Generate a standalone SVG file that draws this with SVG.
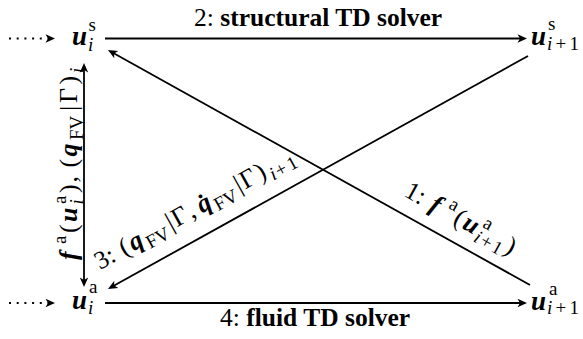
<svg xmlns="http://www.w3.org/2000/svg" width="583" height="339" viewBox="0 0 583 339">
<style>
.tx{font-family:"Liberation Serif","Times New Roman",serif;fill:#000}
.t{font-size:25.5px}
.bd{font-weight:bold}
.mb{font-size:27px;font-weight:bold;font-style:italic}
.lb{font-size:26px;font-weight:bold;font-style:italic}
.mr{font-size:26px}
.sr{font-size:19px}
.si{font-size:19px;font-style:italic}
.ln{stroke:#000;stroke-width:1.8;fill:none}
.dot{stroke-dasharray:2 5.7}
</style>
<defs>
<marker id="ah" viewBox="-10 -5 11 10" refX="-3" refY="0" markerWidth="11" markerHeight="10" markerUnits="userSpaceOnUse" orient="auto-start-reverse">
<path d="M0,0 L-9.5,-4.2 L-7,0 L-9.5,4.2 Z" fill="#000"/>
</marker>
</defs>
<rect width="583" height="339" fill="#fff"/>

<g id="connectors">
<line class="ln dot" x1="9" y1="38.5" x2="52" y2="38.5" marker-end="url(#ah)"/>
<line class="ln dot" x1="9" y1="303" x2="52" y2="303" marker-end="url(#ah)"/>
<line class="ln" x1="105" y1="38.5" x2="524" y2="38.5" marker-end="url(#ah)"/>
<line class="ln" x1="105" y1="303" x2="524" y2="303" marker-end="url(#ah)"/>
<line class="ln" x1="84" y1="66" x2="84" y2="284" marker-start="url(#ah)" marker-end="url(#ah)"/>
<line class="ln" x1="530" y1="285" x2="110.6" y2="51.5" marker-end="url(#ah)"/>
<line class="ln" x1="528" y1="56" x2="110.6" y2="287.5" marker-end="url(#ah)"/>
</g>

<g id="edge-labels">
<text class="tx t" x="194" y="26">2: <tspan class="bd">structural TD solver</tspan></text>
<text class="tx t" x="220" y="326">4: <tspan class="bd">fluid TD solver</tspan></text>
<g transform="translate(403,195.5) rotate(29.1)">
<text class="tx"><tspan class="t" x="0" y="0">1:</tspan><tspan class="lb" x="29" y="0">f</tspan><tspan class="sr" x="45" y="-11">a</tspan><tspan class="mr" x="56" y="0">(</tspan><tspan class="lb" x="66.5" y="0">u</tspan><tspan class="sr" x="84" y="-11">a</tspan><tspan class="si" x="83" y="6">i</tspan><tspan class="sr" x="90" y="6">+</tspan><tspan class="sr" x="103" y="6">1</tspan><tspan class="mr" x="114.5" y="0">)</tspan></text>
</g>
<g transform="translate(100,270) rotate(-29)">
<text class="tx"><tspan class="t" x="0" y="0">3:</tspan><tspan class="mr" x="28" y="0">(</tspan><tspan class="lb" x="38.5" y="0">q</tspan><tspan class="sr" x="54" y="6">FV</tspan><tspan class="mr" x="81.5" y="0">|</tspan><tspan class="mr" x="88" y="0">Γ</tspan><tspan class="mr" x="105" y="0">,</tspan><tspan class="lb" x="116.5" y="0">q̇</tspan><tspan class="sr" x="132" y="6">FV</tspan><tspan class="mr" x="159.5" y="0">|</tspan><tspan class="mr" x="166" y="0">Γ</tspan><tspan class="mr" x="183.5" y="0">)</tspan><tspan class="si" x="195" y="6">i</tspan><tspan class="sr" x="201.5" y="6">+</tspan><tspan class="sr" x="215" y="6">1</tspan></text>
</g>
<g transform="translate(77,260) rotate(-90)">
<text class="tx"><tspan class="lb" x="0" y="0">f</tspan><tspan class="sr" x="16" y="-11">a</tspan><tspan class="mr" x="27" y="0">(</tspan><tspan class="lb" x="38" y="0">u</tspan><tspan class="sr" x="56" y="-11">a</tspan><tspan class="si" x="55.5" y="6">i</tspan><tspan class="mr" x="67" y="0">)</tspan><tspan class="mr" x="77.5" y="0">,</tspan><tspan class="mr" x="92.5" y="0">(</tspan><tspan class="lb" x="103.5" y="0">q</tspan><tspan class="sr" x="120" y="6">FV</tspan><tspan class="mr" x="149" y="0">|</tspan><tspan class="mr" x="157" y="0">Γ</tspan><tspan class="mr" x="175.5" y="0">)</tspan><tspan class="si" x="187" y="6">i</tspan></text>
</g>
</g>

<g id="node-u-s-i" class="tx">
<text><tspan class="mb" x="72" y="44.5">u</tspan><tspan class="sr" x="88.5" y="31">s</tspan><tspan class="si" x="88" y="50.5">i</tspan></text>
</g>
<g id="node-u-s-i1" class="tx">
<text><tspan class="mb" x="531" y="45">u</tspan><tspan class="sr" x="548" y="30">s</tspan><tspan class="si" x="547" y="50">i</tspan><tspan class="sr" x="555.5" y="50">+</tspan><tspan class="sr" x="569.5" y="50">1</tspan></text>
</g>
<g id="node-u-a-i" class="tx">
<text><tspan class="mb" x="72" y="309">u</tspan><tspan class="sr" x="89" y="293">a</tspan><tspan class="si" x="88" y="314">i</tspan></text>
</g>
<g id="node-u-a-i1" class="tx">
<text><tspan class="mb" x="531" y="310">u</tspan><tspan class="sr" x="549" y="295">a</tspan><tspan class="si" x="547" y="314">i</tspan><tspan class="sr" x="555.5" y="314">+</tspan><tspan class="sr" x="569.5" y="314">1</tspan></text>
</g>
</svg>
